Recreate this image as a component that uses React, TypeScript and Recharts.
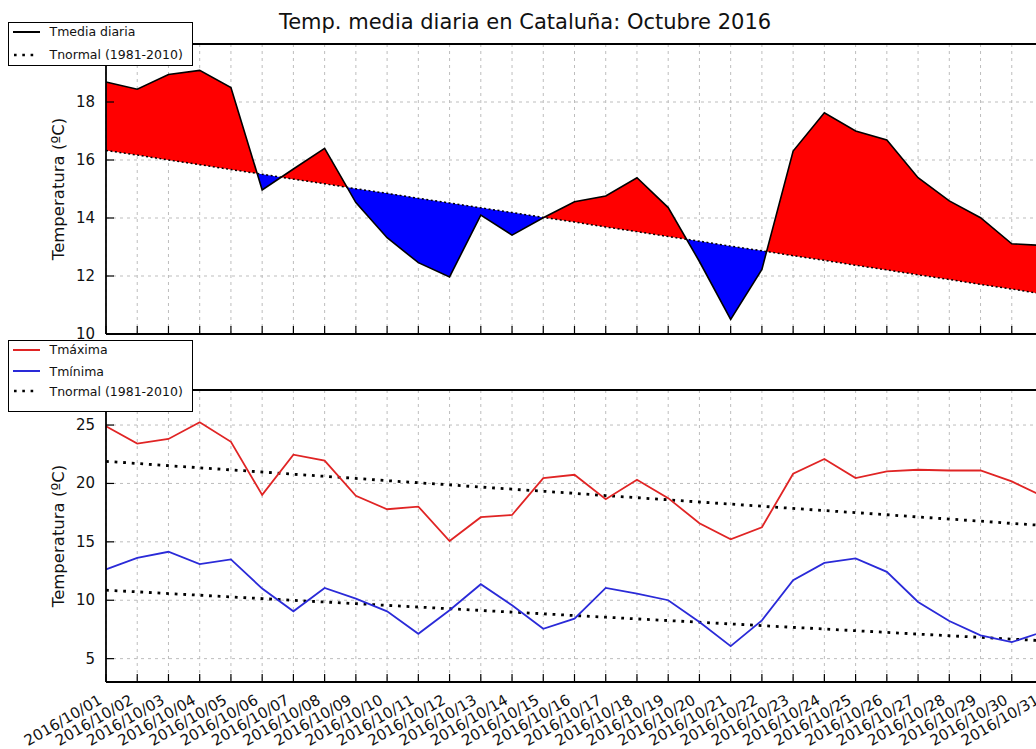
import React from 'react';
import { Area, CartesianGrid, ComposedChart, Line, XAxis, YAxis } from 'recharts';

// days of October 2016
const days = [1, 2, 3, 4, 5, 6, 7, 8, 9, 10, 11, 12, 13, 14, 15, 16, 17, 18, 19, 20, 21, 22, 23, 24, 25, 26, 27, 28, 29, 30, 31];
const dayLabels = days.map((d) => `2016/10/${String(d).padStart(2, '0')}`);

// top panel: daily mean vs normal (ºC)
const tMedia = [18.69, 18.44, 18.95, 19.09, 18.5, 14.97, 15.69, 16.4, 14.53, 13.32, 12.46, 11.97, 14.1, 13.41, 14.01, 14.56, 14.76, 15.39, 14.36, 12.5, 10.5, 12.23, 16.31, 17.63, 17.0, 16.69, 15.39, 14.59, 14.01, 13.11, 13.05];
const tNormalMedia = [16.33, 16.17, 16.0, 15.84, 15.67, 15.51, 15.34, 15.18, 15.01, 14.85, 14.68, 14.52, 14.35, 14.19, 14.02, 13.86, 13.69, 13.53, 13.36, 13.2, 13.03, 12.87, 12.7, 12.54, 12.37, 12.21, 12.04, 11.88, 11.71, 11.55, 11.38];

// bottom panel: max / min vs normals (ºC)
const tMax = [24.9, 23.41, 23.81, 25.24, 23.56, 19.02, 22.46, 21.95, 18.94, 17.79, 18.02, 15.07, 17.11, 17.3, 20.46, 20.74, 18.65, 20.31, 18.74, 16.59, 15.21, 16.25, 20.83, 22.09, 20.46, 21.03, 21.17, 21.11, 21.11, 20.17, 18.9];
const tMin = [12.64, 13.63, 14.15, 13.09, 13.5, 11.0, 9.05, 11.05, 10.14, 9.05, 7.13, 9.14, 11.37, 9.57, 7.56, 8.42, 11.05, 10.57, 10.0, 8.13, 6.07, 8.28, 11.72, 13.2, 13.58, 12.43, 9.85, 8.22, 6.99, 6.41, 7.3];
const tNormalMax = [21.89, 21.71, 21.52, 21.34, 21.16, 20.98, 20.79, 20.61, 20.43, 20.24, 20.06, 19.88, 19.69, 19.51, 19.33, 19.15, 18.96, 18.78, 18.6, 18.41, 18.23, 18.05, 17.86, 17.68, 17.5, 17.32, 17.13, 16.95, 16.77, 16.58, 16.4];
const tNormalMin = [10.86, 10.72, 10.57, 10.43, 10.28, 10.14, 9.99, 9.85, 9.71, 9.56, 9.42, 9.27, 9.13, 8.98, 8.84, 8.69, 8.55, 8.4, 8.26, 8.12, 7.97, 7.83, 7.68, 7.54, 7.39, 7.25, 7.1, 6.96, 6.82, 6.67, 6.53];

const topTicks = [10, 12, 14, 16, 18, 20];
const bottomTicks = [5, 10, 15, 20, 25];
// the legend box hides the label of the top tick in the upper panel
const hiddenTopLabels = [20];

const FONT = '"DejaVu Sans", Verdana, sans-serif';
const CHART_W = 1100;
const TICK = 8;
const FRAME = { stroke: '#000', strokeWidth: 1.8 };

const topRows = days.map((d, i) => ({ day: d, media: tMedia[i], normal: tNormalMedia[i] }));
const bottomRows = days.map((d, i) => ({ day: d, max: tMax[i], min: tMin[i], nmax: tNormalMax[i], nmin: tNormalMin[i] }));

// fill_between style table: add the points where the mean crosses the normal
function buildFill() {
  const rows: any[] = [];
  const push = (day: number, m: number, n: number) =>
    rows.push({ day, red: [n, Math.max(m, n)], blue: [Math.min(m, n), n] });
  for (let i = 0; i < days.length; i++) {
    const diff = tMedia[i] - tNormalMedia[i];
    if (i > 0) {
      const prev = tMedia[i - 1] - tNormalMedia[i - 1];
      if (prev * diff < 0) {
        const t = prev / (prev - diff);
        const v = tNormalMedia[i - 1] + t * (tNormalMedia[i] - tNormalMedia[i - 1]);
        push(days[i - 1] + t * (days[i] - days[i - 1]), v, v);
      }
    }
    push(days[i], tMedia[i], tNormalMedia[i]);
  }
  return rows;
}
const fillRows = buildFill();

const BottomTick = ({ x, y, payload, withLabel }: any) => {
  const idx = days.indexOf(payload.value);
  const lx = x - 3;
  const ly = y + 21;
  return (
    <g>
      <line x1={x} y1={y} x2={x} y2={y - TICK} stroke="#000" strokeWidth={1.2} />
      {withLabel && (
        <text x={lx} y={ly} transform={`rotate(-30 ${lx} ${ly})`} textAnchor="end" fontSize={15} fontFamily={FONT} fill="#111">
          {dayLabels[idx]}
        </text>
      )}
    </g>
  );
};

const TopTick = ({ x, y }: any) => <line x1={x} y1={y} x2={x} y2={y + TICK} stroke="#000" strokeWidth={1.2} />;

const LeftTick = ({ x, y, payload, hidden }: any) => (
  <g>
    <line x1={x} y1={y} x2={x + TICK} y2={y} stroke="#000" strokeWidth={1.2} />
    {!(hidden || []).includes(payload.value) && (
      <text x={x - 11} y={y} textAnchor="end" dominantBaseline="central" fontSize={15} fontFamily={FONT} fill="#111">
        {payload.value}
      </text>
    )}
  </g>
);

const RightTick = ({ x, y }: any) => <line x1={x} y1={y} x2={x - TICK} y2={y} stroke="#000" strokeWidth={1.2} />;

function axes(domain: number[], ticks: number[], withLabels: boolean, hidden: number[]) {
  return [
    <XAxis key="xb" dataKey="day" type="number" domain={[1, 31]} ticks={days} interval={0} height={1} tickSize={0} tickMargin={0} axisLine={FRAME} tick={(p: any) => <BottomTick {...p} withLabel={withLabels} />} />,
    <XAxis key="xt" xAxisId="t" orientation="top" dataKey="day" type="number" domain={[1, 31]} ticks={days} interval={0} height={1} tickSize={0} tickMargin={0} axisLine={FRAME} tick={(p: any) => <TopTick {...p} />} />,
    <YAxis key="yl" type="number" domain={domain} ticks={ticks} interval={0} width={60} tickSize={0} tickMargin={0} axisLine={FRAME} tick={(p: any) => <LeftTick {...p} hidden={hidden} />} />,
    <YAxis key="yr" yAxisId="r" orientation="right" type="number" domain={domain} ticks={ticks} interval={0} width={1} tickSize={0} tickMargin={0} axisLine={FRAME} tick={(p: any) => <RightTick {...p} />} />,
  ];
}

type LegendItem = { label: string; color: string; dash?: string; width: number; y: number };

function LegendBox({ top, height, items }: { top: number; height: number; items: LegendItem[] }) {
  return (
    <div
      style={{
        position: 'absolute', left: 8, top, width: 185, height, boxSizing: 'border-box',
        border: '1.5px solid #000', background: '#fff', fontFamily: FONT, fontSize: 12.5, color: '#111', zIndex: 3,
      }}
    >
      {items.map((it) => (
        <div key={it.label} style={{ position: 'absolute', left: 3.5, top: it.y - 8, height: 16, display: 'flex', alignItems: 'center', whiteSpace: 'nowrap' }}>
          <svg width={28} height={16}>
            <line x1={it.dash ? 1 : 0} y1={8} x2={it.dash ? 22 : 27} y2={8} stroke={it.color} strokeWidth={it.width} strokeDasharray={it.dash} />
          </svg>
          <span style={{ marginLeft: 9 }}>{it.label}</span>
        </div>
      ))}
    </div>
  );
}

const gridProps = { stroke: '#bdbdbd', strokeDasharray: '3 4', strokeWidth: 1 };

export default function App() {
  return (
    <div style={{ position: 'fixed', left: 0, top: 0, width: 1036, height: 749, overflow: 'hidden', background: '#fff' }}>
      <div style={{ position: 'absolute', left: 0, top: 0 }}>
        <ComposedChart width={CHART_W} height={340} margin={{ top: 43, right: 56, bottom: 5, left: 46 }}>
          <CartesianGrid {...gridProps} />
          {axes([10, 20], topTicks, false, hiddenTopLabels)}
          <Area data={fillRows} dataKey="red" type="linear" fill="#ff0000" fillOpacity={1} stroke="none" isAnimationActive={false} />
          <Area data={fillRows} dataKey="blue" type="linear" fill="#0000ff" fillOpacity={1} stroke="none" isAnimationActive={false} />
          <Line data={topRows} dataKey="normal" type="linear" stroke="#000" strokeWidth={1.5} strokeDasharray="2 2.5" dot={false} isAnimationActive={false} />
          <Line data={topRows} dataKey="media" type="linear" stroke="#000" strokeWidth={1.6} dot={false} isAnimationActive={false} />
        </ComposedChart>
      </div>
      <div style={{ position: 'absolute', left: 0, top: 340 }}>
        <ComposedChart width={CHART_W} height={409} margin={{ top: 49, right: 56, bottom: 66, left: 46 }}>
          <CartesianGrid {...gridProps} />
          {axes([3, 28], bottomTicks, true, [])}
          <Line data={bottomRows} dataKey="nmax" type="linear" stroke="#000" strokeWidth={2.8} strokeDasharray="2.8 5.8" dot={false} isAnimationActive={false} />
          <Line data={bottomRows} dataKey="nmin" type="linear" stroke="#000" strokeWidth={2.8} strokeDasharray="2.8 5.8" dot={false} isAnimationActive={false} />
          <Line data={bottomRows} dataKey="max" type="linear" stroke="#e02424" strokeWidth={1.8} dot={false} isAnimationActive={false} />
          <Line data={bottomRows} dataKey="min" type="linear" stroke="#2a2ad8" strokeWidth={1.8} dot={false} isAnimationActive={false} />
        </ComposedChart>
      </div>
      <svg width={1036} height={749} style={{ position: 'absolute', left: 0, top: 0, zIndex: 2, pointerEvents: 'none' }}>
        <text x={525} y={28.6} textAnchor="middle" fontSize={21} fontFamily={FONT} fill="#111">
          Temp. media diaria en Cataluña: Octubre 2016
        </text>
        <text x={58} y={189} transform="rotate(-90 58 189)" textAnchor="middle" dominantBaseline="central" fontSize={16.5} fontFamily={FONT} fill="#111">
          Temperatura (ºC)
        </text>
        <text x={58} y={536} transform="rotate(-90 58 536)" textAnchor="middle" dominantBaseline="central" fontSize={16.5} fontFamily={FONT} fill="#111">
          Temperatura (ºC)
        </text>
      </svg>
      <LegendBox
        top={22}
        height={44}
        items={[
          { label: 'Tmedia diaria', color: '#000', width: 2, y: 8.8 },
          { label: 'Tnormal (1981-2010)', color: '#000', width: 2.6, dash: '2.6 5.7', y: 31.5 },
        ]}
      />
      <LegendBox
        top={340}
        height={72}
        items={[
          { label: 'Tmáxima', color: '#e02424', width: 2, y: 8.5 },
          { label: 'Tmínima', color: '#2a2ad8', width: 2, y: 30.2 },
          { label: 'Tnormal (1981-2010)', color: '#000', width: 2.6, dash: '2.6 5.7', y: 50.2 },
        ]}
      />
    </div>
  );
}
